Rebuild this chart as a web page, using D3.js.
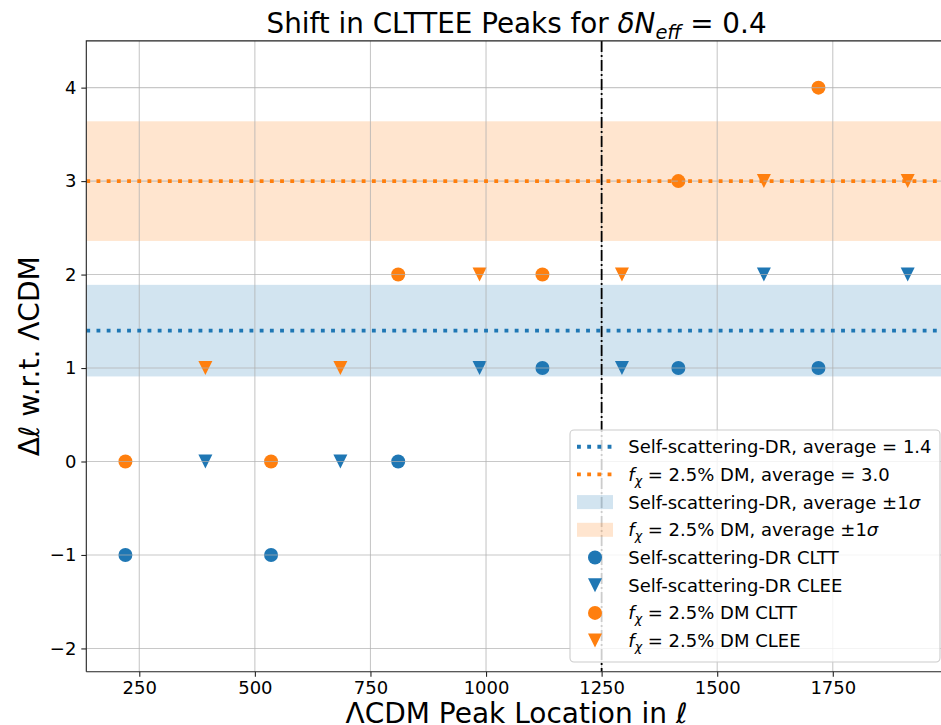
<!DOCTYPE html>
<html>
<head>
<meta charset="utf-8">
<script src="https://cdn.jsdelivr.net/npm/d3@7"></script>
<style>
  html, body { margin: 0; padding: 0; background: #fff; }
  svg { display: block; font-family: "DejaVu Sans", sans-serif; }
</style>
</head>
<body>
<script>
// Peak locations in ΛCDM (ℓ) for the TT and EE spectra
const peaksTT = [220, 535, 810, 1122, 1416, 1719];
const peaksEE = [393, 685, 986, 1294, 1601, 1912];

// Peak shifts Δℓ for each model
const drTT = [-1, -1, 0, 1, 1, 1];
const drEE = [0, 0, 1, 1, 2, 2];
const dmTT = [0, 0, 2, 2, 3, 4];
const dmEE = [1, 1, 2, 2, 3, 3];

// Averages and 1σ spreads
const averages = [1.4, 3.0];
const sigmas = [0.49, 0.64];

const xTicks = [250, 500, 750, 1000, 1250, 1500, 1750];
const yTicks = [-2, -1, 0, 1, 2, 3, 4];
const markLine = 1250;

const BLUE = "#1f77b4", ORANGE = "#ff7f0e";
const W = 941, H = 725;
const pL = 86.3, pR = 946.8, pT = 40.9, pB = 671.8;

const svg = d3.select("body").append("svg").attr("width", W).attr("height", H);

// x domain: data extent plus 5% padding on each side
const allX = peaksTT.concat(peaksEE);
const [xmin, xmax] = d3.extent(allX);
const xpad = (xmax - xmin) * 0.05;
const x = d3.scaleLinear().domain([xmin - xpad, xmax + xpad]).range([pL, pR]);
const y = d3.scaleLinear().domain([-2.25, 4.5]).range([pB, pT]);

svg.append("defs").append("clipPath").attr("id", "plot")
  .append("rect").attr("x", pL).attr("y", pT).attr("width", pR - pL).attr("height", pB - pT);

const plot = svg.append("g").attr("clip-path", "url(#plot)");

// ±1σ bands
const bands = [
  { avg: averages[0], sig: sigmas[0], color: BLUE },
  { avg: averages[1], sig: sigmas[1], color: ORANGE }
];
plot.selectAll("rect.band").data(bands).join("rect")
  .attr("class", "band")
  .attr("x", pL).attr("width", pR - pL)
  .attr("y", d => y(d.avg + d.sig))
  .attr("height", d => y(d.avg - d.sig) - y(d.avg + d.sig))
  .attr("fill", d => d.color).attr("fill-opacity", 0.2);

// markers
const R = 7;
const triPath = `M${-R},${-R}L${R},${-R}L0,${R}Z`;
function circles(xs, ys, color) {
  plot.append("g").selectAll("circle").data(xs.map((v, i) => [v, ys[i]])).join("circle")
    .attr("cx", d => x(d[0])).attr("cy", d => y(d[1])).attr("r", R).attr("fill", color);
}
function triangles(xs, ys, color) {
  plot.append("g").selectAll("path").data(xs.map((v, i) => [v, ys[i]])).join("path")
    .attr("d", triPath)
    .attr("transform", d => `translate(${x(d[0])},${y(d[1])})`).attr("fill", color);
}
circles(peaksTT, drTT, BLUE);
triangles(peaksEE, drEE, BLUE);
circles(peaksTT, dmTT, ORANGE);
triangles(peaksEE, dmEE, ORANGE);

// grid
const grid = plot.append("g").attr("stroke", "#b0b0b0").attr("stroke-opacity", 0.7).attr("stroke-width", 1.1);
grid.selectAll("line.gx").data(xTicks).join("line").attr("class", "gx")
  .attr("x1", d => x(d)).attr("x2", d => x(d)).attr("y1", pT).attr("y2", pB);
grid.selectAll("line.gy").data(yTicks).join("line").attr("class", "gy")
  .attr("y1", d => y(d)).attr("y2", d => y(d)).attr("x1", pL).attr("x2", pR);

// average lines
plot.selectAll("line.avg").data(bands).join("line").attr("class", "avg")
  .attr("x1", pL).attr("x2", pR)
  .attr("y1", d => y(d.avg)).attr("y2", d => y(d.avg))
  .attr("stroke", d => d.color).attr("stroke-width", 3.85)
  .attr("stroke-dasharray", "3.85,6.35");

// reference peak line
plot.append("line")
  .attr("x1", x(markLine)).attr("x2", x(markLine)).attr("y1", pT).attr("y2", pB)
  .attr("stroke", "#000").attr("stroke-width", 1.8)
  .attr("stroke-dasharray", "11,3,2,3");

// axes
const FS = 18;
const xAxis = d3.axisBottom(x).tickValues(xTicks).tickSize(5).tickPadding(4.9).tickFormat(d3.format("d"));
const gx = svg.append("g").attr("transform", `translate(0,${pB})`).call(xAxis);
const yAxis = d3.axisLeft(y).tickValues(yTicks).tickSize(5).tickPadding(4.9)
  .tickFormat(d => d < 0 ? "\u2212" + Math.abs(d) : String(d));
const gy = svg.append("g").attr("transform", `translate(${pL},0)`).call(yAxis);
[gx, gy].forEach(g => {
  g.select(".domain").remove();
  g.selectAll(".tick line").attr("stroke", "#222").attr("stroke-width", 1.1);
  g.selectAll(".tick text").attr("font-size", FS).attr("font-family", "DejaVu Sans").attr("fill", "#000");
});

// spines
const spines = svg.append("g").attr("stroke", "#222").attr("stroke-width", 1.1).attr("fill", "none");
spines.append("path").attr("d", `M${pL},${pB}V${pT}H${pR}`);
spines.append("path").attr("d", `M${pL},${pB}H${pR}`);

// text helper for mathtext-like runs
function rich(textSel, segs, size) {
  let shifted = 0;
  segs.forEach(s => {
    const ts = textSel.append("tspan").text(s.t);
    if (s.it) ts.attr("font-style", "italic");
    const want = s.sub ? size * 0.22 : 0;
    if (want !== shifted) { ts.attr("dy", want - shifted); shifted = want; }
    if (s.sub) ts.attr("font-size", size * 0.7);
  });
}

// title
const title = svg.append("text").attr("x", (pL + pR) / 2).attr("y", 32.6)
  .attr("text-anchor", "middle").attr("font-size", 27.8);
rich(title, [
  { t: "Shift in CLTTEE Peaks for " },
  { t: "\u03b4N", it: true },
  { t: "eff", it: true, sub: true },
  { t: " = 0.4" }
], 27.8);

// axis labels
const xl = svg.append("text").attr("x", (pL + pR) / 2).attr("y", 723)
  .attr("text-anchor", "middle").attr("font-size", 28);
rich(xl, [{ t: "\u039bCDM Peak Location in " }, { t: "\u2113", it: true }], 28);

const yl = svg.append("text")
  .attr("transform", `translate(38.5,${(pT + pB) / 2}) rotate(-90)`)
  .attr("text-anchor", "middle").attr("font-size", 28);
rich(yl, [{ t: "\u0394" }, { t: "\u2113", it: true }, { t: " w.r.t. \u039bCDM" }], 28);

// legend
const fchi = [{ t: "f", it: true }, { t: "\u03c7", it: true, sub: true }];
const legendItems = [
  { kind: "line", color: BLUE, segs: [{ t: "Self-scattering-DR, average = 1.4" }] },
  { kind: "line", color: ORANGE, segs: fchi.concat([{ t: " = 2.5% DM, average = 3.0" }]) },
  { kind: "patch", color: BLUE, segs: [{ t: "Self-scattering-DR, average \u00b11" }, { t: "\u03c3", it: true }] },
  { kind: "patch", color: ORANGE, segs: fchi.concat([{ t: " = 2.5% DM, average \u00b11" }, { t: "\u03c3", it: true }]) },
  { kind: "circle", color: BLUE, segs: [{ t: "Self-scattering-DR CLTT" }] },
  { kind: "tri", color: BLUE, segs: [{ t: "Self-scattering-DR CLEE" }] },
  { kind: "circle", color: ORANGE, segs: fchi.concat([{ t: " = 2.5% DM CLTT" }]) },
  { kind: "tri", color: ORANGE, segs: fchi.concat([{ t: " = 2.5% DM CLEE" }]) }
];
const lg = svg.append("g");
lg.append("rect").attr("x", 570).attr("y", 430).attr("width", 370).attr("height", 232)
  .attr("rx", 4).attr("fill", "#fff").attr("fill-opacity", 0.8)
  .attr("stroke", "#cccccc").attr("stroke-width", 1.1);
const hx0 = 577, hx1 = 613, tx = 628.3;
legendItems.forEach((it, i) => {
  const cy = 446.7 + i * 27.7;
  const g = lg.append("g");
  if (it.kind === "line") {
    g.append("line").attr("x1", hx0).attr("x2", hx1).attr("y1", cy).attr("y2", cy)
      .attr("stroke", it.color).attr("stroke-width", 3.85).attr("stroke-dasharray", "3.85,6.35");
  } else if (it.kind === "patch") {
    g.append("rect").attr("x", hx0).attr("y", cy - 7).attr("width", hx1 - hx0).attr("height", 14)
      .attr("fill", it.color).attr("fill-opacity", 0.2);
  } else if (it.kind === "circle") {
    g.append("circle").attr("cx", (hx0 + hx1) / 2).attr("cy", cy).attr("r", R).attr("fill", it.color);
  } else {
    g.append("path").attr("d", triPath).attr("transform", `translate(${(hx0 + hx1) / 2},${cy})`)
      .attr("fill", it.color);
  }
  const t = g.append("text").attr("x", tx).attr("y", cy + 6.5).attr("font-size", FS);
  rich(t, it.segs, FS);
});
</script>
</body>
</html>
